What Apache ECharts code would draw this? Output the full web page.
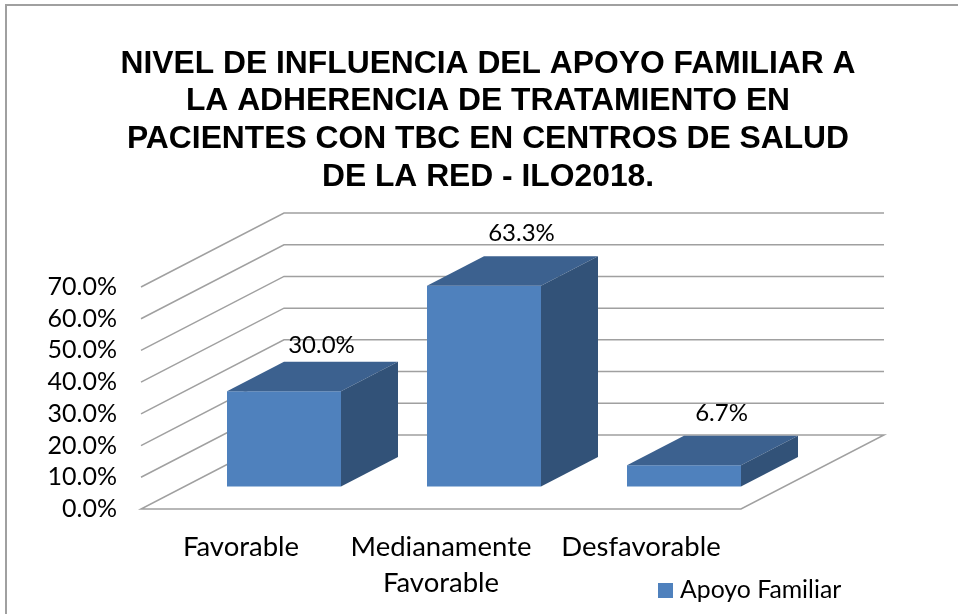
<!DOCTYPE html>
<html><head><meta charset="utf-8">
<style>html,body{margin:0;padding:0;background:#fff}#c{width:958px;height:614px}</style>
<script src="https://cdn.jsdelivr.net/npm/echarts@6/dist/echarts.min.js"></script>
</head><body><div id="c"></div>
<script>
const titleLines = ['NIVEL DE INFLUENCIA DEL APOYO FAMILIAR A','LA ADHERENCIA DE TRATAMIENTO EN','PACIENTES CON TBC EN CENTROS DE SALUD','DE LA RED - ILO2018.'];
const categories = ['Favorable','Medianamente\nFavorable','Desfavorable'];
const values = [30.0, 63.3, 6.7];
const ticks = [0,10,20,30,40,50,60,70];
const seriesName = 'Apoyo Familiar';

const chart = echarts.init(document.getElementById('c'), null, {renderer:'canvas'});
const DX = 143, DY = -74;
const GAPX = 43, GAPY = -22.5;
const BDX = 57, BDY = -29.5;
const BARW = 114;
const LABEL_LIFT = [17, 23, 22];
const grey = '#a0a0a0';

function wallItem(params, api){
  const v = api.value(0);
  const l = api.coord([0, v]);
  const band = api.size([1,0])[0];
  const x0 = l[0] - band/2, x1 = x0 + band*categories.length, y = l[1];
  const pts = v === 0
    ? [[x0+DX,y+DY],[x1+DX,y+DY],[x1,y],[x0,y],[x0+DX,y+DY]]
    : [[x0,y],[x0+DX,y+DY],[x1+DX,y+DY]];
  return {type:'polyline', shape:{points:pts}, style:{fill:null, stroke:grey, lineWidth:1.5}, silent:true};
}
function barItem(params, api){
  const i = api.value(0), v = api.value(1);
  const top = api.coord([i, v]), base = api.coord([i, 0]);
  const xl = top[0] - BARW/2 + GAPX, xr = xl + BARW;
  const yt = top[1] + GAPY, yb = base[1] + GAPY;
  return {type:'group', children:[
    {type:'polygon', shape:{points:[[xl,yt],[xr,yt],[xr,yb],[xl,yb]]}, style:{fill:'#4f81bd'}},
    {type:'polygon', shape:{points:[[xl,yt],[xr,yt],[xr+BDX,yt+BDY],[xl+BDX,yt+BDY]]}, style:{fill:'#3c618f'}},
    {type:'polygon', shape:{points:[[xr,yt],[xr+BDX,yt+BDY],[xr+BDX,yb+BDY],[xr,yb]]}, style:{fill:'#325278'}},
    {type:'text', style:{x:xl+BARW/2+37.5, y:yt+BDY-LABEL_LIFT[i], text:v.toFixed(1)+'%', font:'24px Lato', fill:'#000', align:'center', verticalAlign:'middle'}}
  ]};
}

chart.setOption({
  animation:false,
  backgroundColor:'#fff',
  title:{text:titleLines.join('\n'), left:483, top:40, textAlign:'center',
    textStyle:{fontFamily:'Liberation Sans', fontWeight:'bold', fontSize:31.8, lineHeight:37.7, color:'#000'}},
  legend:{show:true, data:[{name:seriesName, icon:'rect', itemStyle:{color:'#4f81bd'}}], left:658, top:578, padding:0,
    itemWidth:15, itemHeight:15, textStyle:{fontFamily:'Lato', fontSize:24.8, color:'#000', padding:[0,0,0,2]}},
  grid:{left:141, top:287, width:600, height:222, containLabel:false},
  xAxis:{type:'category', data:categories, axisLine:{show:false}, axisTick:{show:false}, splitLine:{show:false},
    axisLabel:{fontFamily:'Lato', fontSize:27.5, color:'#000', margin:20, lineHeight:36, interval:0}},
  yAxis:{type:'value', min:0, max:70, interval:10, axisLine:{show:false}, axisTick:{show:false}, splitLine:{show:false},
    axisLabel:{fontFamily:'Lato', fontSize:25, color:'#000', margin:24, padding:[2,0,0,0], formatter:v=>v.toFixed(1)+'%'}},
  graphic:[{type:'polyline', silent:true, shape:{points:[[6,614],[6,5],[958,5]]}, style:{fill:null, stroke:grey, lineWidth:2}}],
  series:[
    {type:'custom', name:'grid', renderItem:wallItem, data:ticks.map(t=>[t]), encode:{x:-1,y:0}, silent:true, z:1, legendHoverLink:false},
    {type:'custom', name:seriesName, renderItem:barItem, data:values.map((v,i)=>[i,v]), encode:{x:0,y:1}, itemStyle:{color:'#4f81bd'}, z:2}
  ]
});
</script></body></html>
